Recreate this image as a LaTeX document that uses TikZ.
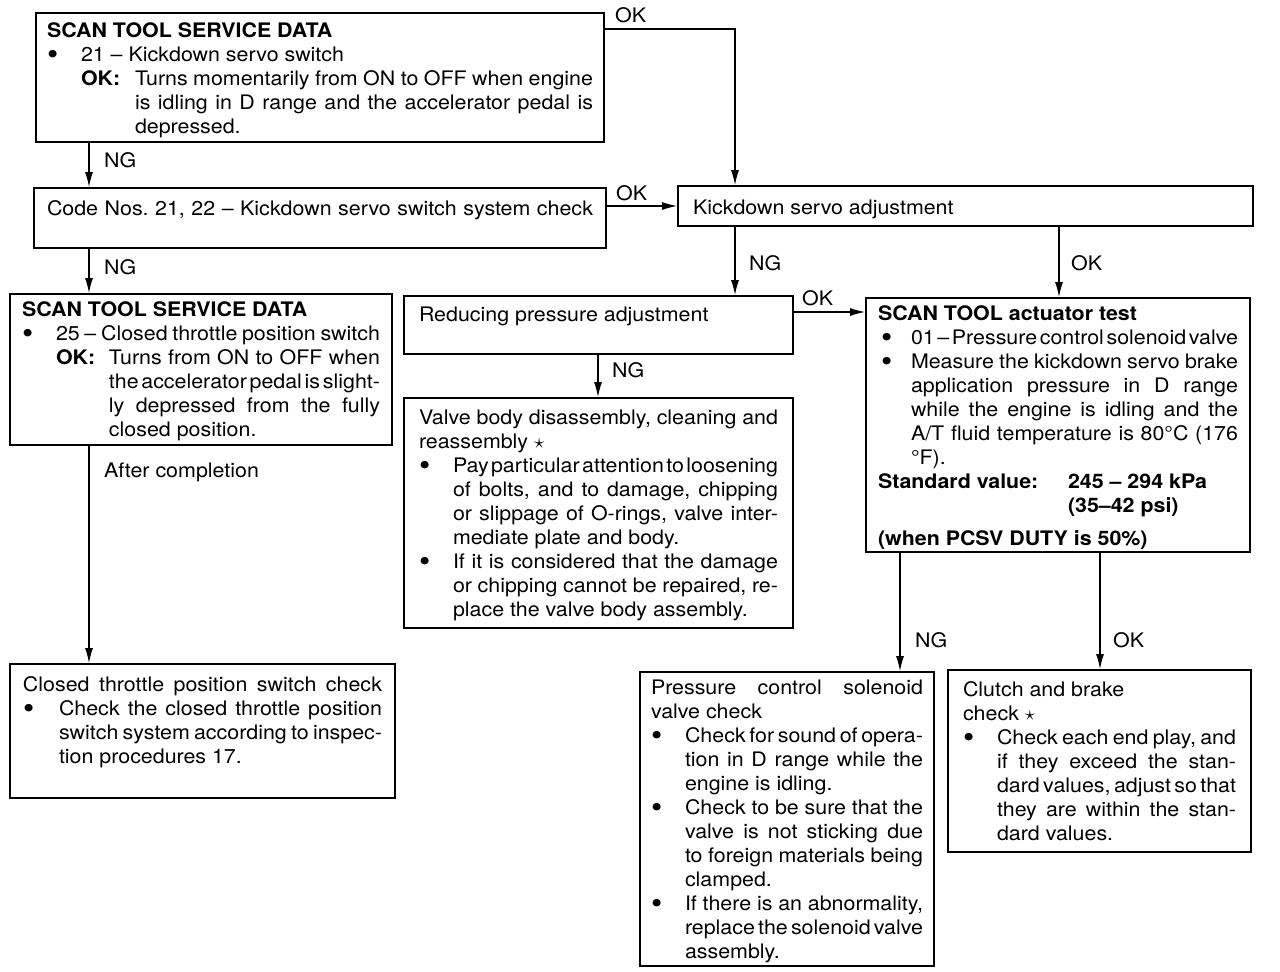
\documentclass[tikz,border=0pt]{standalone}
\usepackage{graphicx}
\usepackage{fontspec}
\setmainfont{TeX Gyre Heros}[FakeStretch=1.07]
\usetikzlibrary{arrows.meta}

% text block: #1 width, #2 height, #3 first baseline offset, #4 content
\newcommand\tbox[4]{\parbox[t][#2][t]{#1}{\fontsize{20}{24}\selectfont\frenchspacing\parskip=0pt\leavevmode\rule{0pt}{#3}#4}}
% left line with indent
\newcommand\myL[2][0pt]{\leavevmode\hspace*{#1}#2\par}
% justified line with indent
\newcommand\myJ[2][0pt]{\leavevmode\hspace*{#1}{\spaceskip=.28em plus 30em minus .28em\makebox[\dimexpr\linewidth-#1\relax][s]{#2}}\par}
\newcommand\bul[1][34pt]{\makebox[#1][l]{\raisebox{-3.5pt}{\scalebox{1.5}{\textbullet}}}}

\tikzset{
  box/.style={draw, line width=2pt, anchor=north west, inner ysep=0pt},
  conn/.style={line width=1.1pt, -{Latex[length=15pt,width=8pt]}},
  lbl/.style={anchor=base west, inner sep=0pt, font=\fontsize{20}{24}\selectfont}
}

\begin{document}
\begin{tikzpicture}[x=1pt,y=-1pt]
\useasboundingbox[fill=white] (0,0) rectangle (1280,972);

% ---------- boxes ----------
\node[box, inner xsep=11pt] (A) at (35,12) {\tbox{546pt}{129pt}{24pt}{%
\myL{\textbf{SCAN TOOL SERVICE DATA}}
\myL{\bul 21 – Kickdown servo switch}
\myJ[34pt]{\makebox[54pt][l]{\textbf{OK:}}Turns momentarily from ON to OFF when engine}
\myJ[88pt]{is idling in D range and the accelerator pedal is}
\myL[88pt]{depressed.}}};

\node[box, inner xsep=13pt] (B) at (33,187) {\tbox{546pt}{60pt}{27pt}{%
\myJ{Code Nos. 21, 22 – Kickdown servo switch system check}}};

\node[box, inner xsep=15pt] (C) at (677,185) {\tbox{545pt}{40pt}{28pt}{%
\myL{Kickdown servo adjustment}}};

\node[box, inner xsep=12pt] (D) at (9,293) {\tbox{358pt}{151pt}{22pt}{%
\myL{\textbf{SCAN TOOL SERVICE DATA}}
\myJ{\bul 25 – Closed throttle position switch}
\myJ[34pt]{\makebox[53pt][l]{\textbf{OK:}}Turns from ON to OFF when}
\myJ[87pt]{the accelerator pedal is slight-}
\myJ[87pt]{ly depressed from the fully}
\myL[87pt]{closed position.}}};

\node[box, inner xsep=15pt] (E) at (403,295) {\tbox{359pt}{58pt}{25pt}{%
\myL{Reducing pressure adjustment}}};

\node[box, inner xsep=15pt] (F) at (403,397) {\tbox{359pt}{230pt}{26pt}{%
\myJ{Valve body disassembly, cleaning and}
\myL{reassembly \ensuremath{\star}}
\myJ{\bul Pay particular attention to loosening}
\myJ[34pt]{of bolts, and to damage, chipping}
\myJ[34pt]{or slippage of O-rings, valve inter-}
\myL[34pt]{mediate plate and body.}
\myJ{\bul If it is considered that the damage}
\myJ[34pt]{or chipping cannot be repaired, re-}
\myL[34pt]{place the valve body assembly.}}};

\node[box, inner xsep=12pt] (G) at (865,297) {\tbox{360pt}{254pt}{22pt}{%
\myL{\textbf{SCAN TOOL actuator test}}
\myJ[3pt]{\bul[30pt]01 – Pressure control solenoid valve}
\myJ[3pt]{\bul[30pt]Measure the kickdown servo brake}
\myJ[33pt]{application pressure in D range}
\myJ[33pt]{while the engine is idling and the}
\myJ[33pt]{A/T fluid temperature is 80°C (176}
\myL[33pt]{°F).}
\myL{\makebox[190pt][l]{\textbf{Standard value:}}\textbf{245 – 294 kPa}}
\myL[190pt]{\textbf{(35–42 psi)}}
\vspace{9pt}
\myL{\textbf{(when PCSV DUTY is 50\%)}}}};

\node[box, inner xsep=13pt] (H) at (9,663) {\tbox{359pt}{134pt}{27pt}{%
\myJ{Closed throttle position switch check}
\myJ{\bul[36pt]Check the closed throttle position}
\myJ[36pt]{switch system according to inspec-}
\myL[36pt]{tion procedures 17.}}};

\node[box, inner xsep=11pt] (I) at (639,671) {\tbox{272pt}{294pt}{22pt}{%
\myJ{Pressure control solenoid}
\myL{valve check}
\myJ{\bul Check for sound of opera-}
\myJ[34pt]{tion in D range while the}
\myL[34pt]{engine is idling.}
\myJ{\bul Check to be sure that the}
\myJ[34pt]{valve is not sticking due}
\myJ[34pt]{to foreign materials being}
\myL[34pt]{clamped.}
\myJ{\bul If there is an abnormality,}
\myJ[34pt]{replace the solenoid valve}
\myL[34pt]{assembly.}}};

\node[box, inner xsep=15pt] (J) at (947,669) {\tbox{273pt}{182pt}{26pt}{%
\myL{Clutch and brake}
\myL{check \ensuremath{\star}}
\myJ{\bul Check each end play, and}
\myJ[34pt]{if they exceed the stan-}
\myJ[34pt]{dard values, adjust so that}
\myJ[34pt]{they are within the stan-}
\myL[34pt]{dard values.}}};

% ---------- helper coordinates ----------
\coordinate (xa) at (89,0);
\coordinate (xk) at (735,0);
\coordinate (xg) at (1059,0);
\coordinate (xe) at (598,0);
\coordinate (xn) at (900,0);
\coordinate (xo) at (1100,0);
\coordinate (ya) at (0,29);
\coordinate (ye) at (0,312);

% ---------- connectors ----------
\draw[conn] (A.east |- ya) -| (C.north -| xk);
\draw[conn] (A.south -| xa) -- (B.north -| xa);
\draw[conn] (B.east |- C.west) -- (C.west);
\draw[conn] (B.south -| xa) -- (D.north -| xa);
\draw[conn] (C.south -| xk) -- (E.north -| xk);
\draw[conn] (C.south -| xg) -- (G.north -| xg);
\draw[conn] (E.east |- ye) -- (G.west |- ye);
\draw[conn] (E.south -| xe) -- (F.north -| xe);
\draw[conn] (D.south -| xa) -- (H.north -| xa);
\draw[conn] (G.south -| xn) -- (I.north -| xn);
\draw[conn] (G.south -| xo) -- (J.north -| xo);

% ---------- labels ----------
\node[lbl] (l1) at (615,22) {OK};
\node[lbl] (l2) at (104,167) {NG};
\node[lbl] (l3) at (616,200) {OK};
\node[lbl] (l4) at (104,274) {NG};
\node[lbl] (l5) at (749,270) {NG};
\node[lbl] (l6) at (1071,270) {OK};
\node[lbl] (l7) at (802,305) {OK};
\node[lbl] (l8) at (612,377) {NG};
\node[lbl] (l9) at (104,477) {After completion};
\node[lbl] (l10) at (915,647) {NG};
\node[lbl] (l11) at (1113,647) {OK};
\end{tikzpicture}
\end{document}
